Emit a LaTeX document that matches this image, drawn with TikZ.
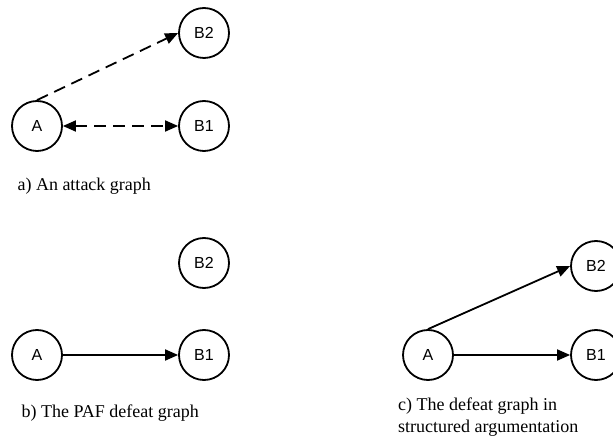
\documentclass[tikz,border=0pt]{standalone}
\usepackage{fontspec}
\setmainfont{Liberation Serif}
\newfontfamily\argfont{Liberation Sans}
\usetikzlibrary{arrows.meta}
\tikzset{
  arg/.style={circle,draw,line width=1.8bp,minimum size=50bp,inner sep=0pt,
    font=\argfont\fontsize{16bp}{18bp}\selectfont},
  att/.style={line width=1.8bp,-{Triangle[length=13bp,width=11bp]}},
  dashatt/.style={att,dash pattern=on 12bp off 7bp},
  subcap/.style={anchor=base west,font=\fontsize{18bp}{22bp}\selectfont}
}
\begin{document}
\begin{tikzpicture}[x=1bp,y=-1bp]
  \useasboundingbox (0,0) rectangle (613,441);
  % a) attacks
  \node[arg] (aA)  at (37,126) {A};
  \node[arg] (aB1) at (204,126) {B1};
  \node[arg] (aB2) at (204,33) {B2};
  \draw[dashatt,{Triangle[length=13bp,width=11bp]}-{Triangle[length=13bp,width=11bp]}] (aA) -- (aB1);
  \draw[dashatt] (aA.north) -- (aB2.west);
  \node[subcap] (acap) at (14,191) {a) An attack graph};
  % b) PAF defeats
  \node[arg] (bA)  at (37,355) {A};
  \node[arg] (bB1) at (204,355) {B1};
  \node[arg] (bB2) at (204,263) {B2};
  \draw[att] (bA) -- (bB1);
  \node[subcap] (bcap) at (18,417) {b) The PAF defeat graph};
  % c) defeats in structured argumentation
  \node[arg] (cA)  at (428,355) {A};
  \node[arg] (cB1) at (596,355) {B1};
  \node[arg] (cB2) at (596,266) {B2};
  \draw[att] (cA) -- (cB1);
  \draw[att] (cA.north) -- (cB2.west);
  \node[subcap,align=left,anchor=north west,inner sep=0pt] (ccap) at (398,398)
    {c) The defeat graph in\\structured argumentation};
\end{tikzpicture}
\end{document}
